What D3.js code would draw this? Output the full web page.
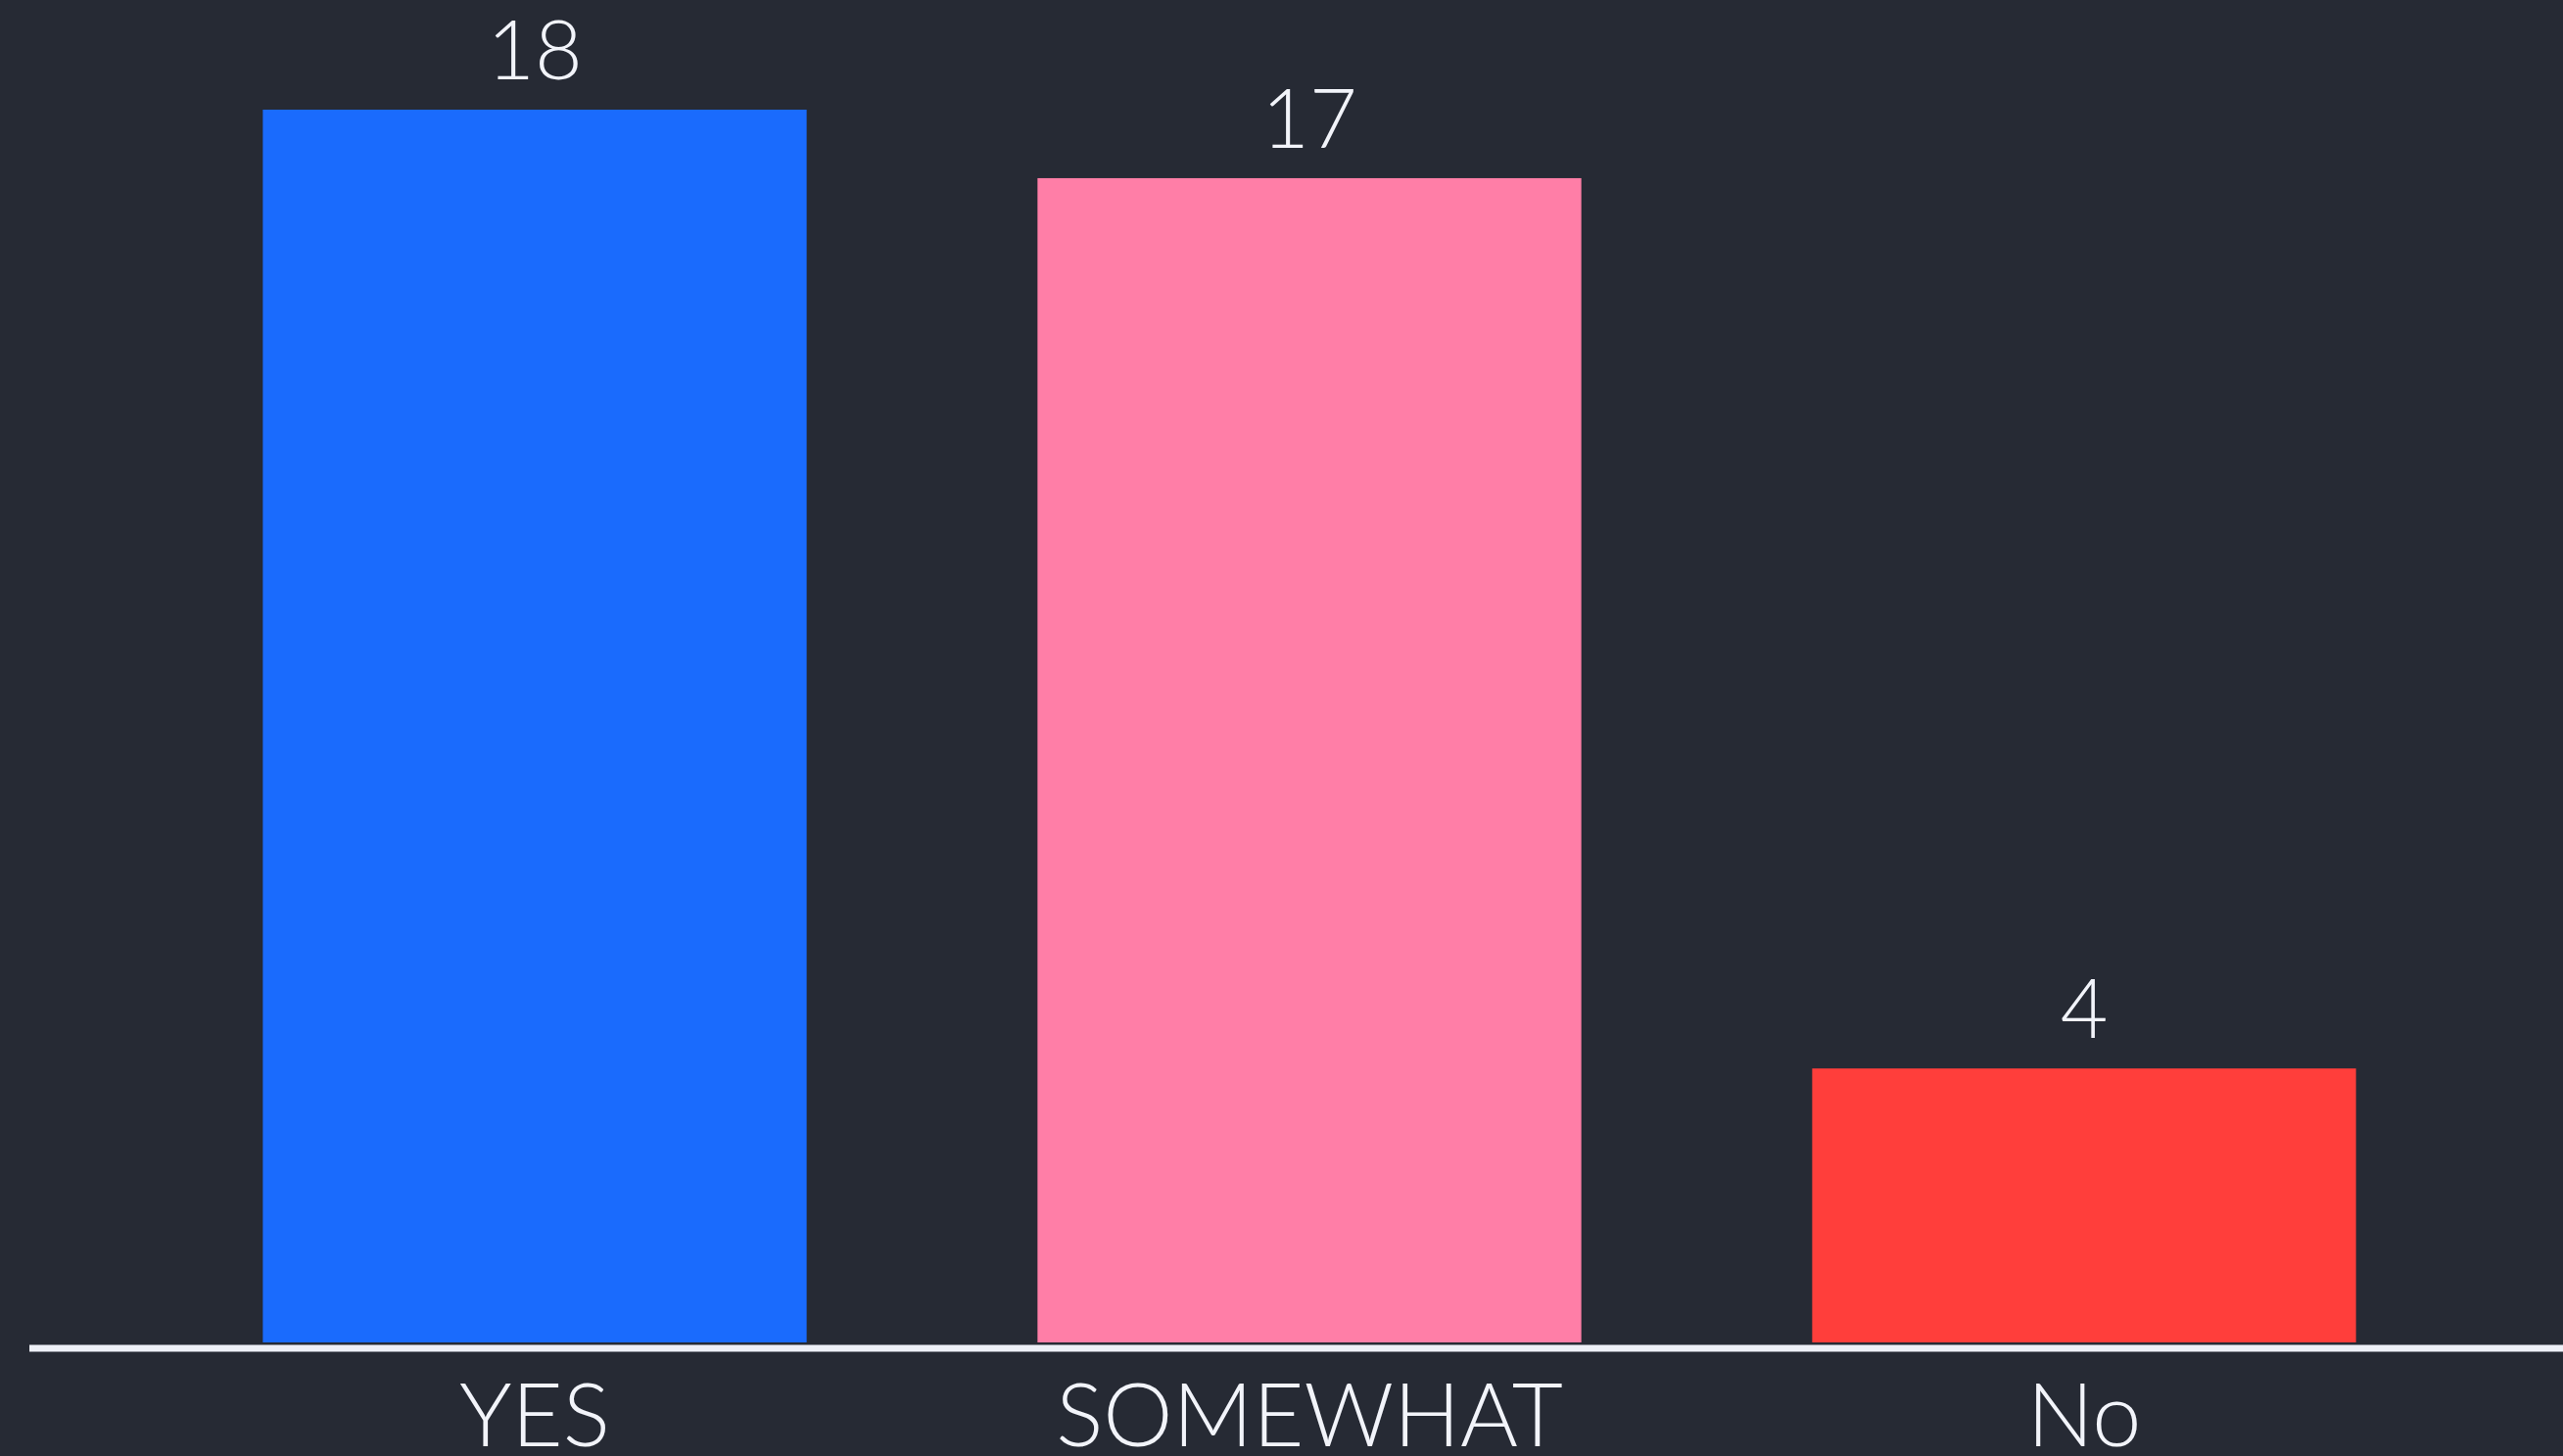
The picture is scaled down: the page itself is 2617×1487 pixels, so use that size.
<!DOCTYPE html>
<html>
<head>
<meta charset="utf-8">
<script src="https://cdn.jsdelivr.net/npm/d3@7"></script>
<style>
  html, body { margin: 0; padding: 0; background: #262a34; overflow: hidden; }
  text { font-family: Lato, "Open Sans", sans-serif; font-weight: 300; fill: #f2f4fa; }
</style>
</head>
<body>
<div id="chart"></div>
<script>
// Data
var categories = ["YES", "SOMEWHAT", "No"];
var counts = [18, 17, 4];
var barColors = ["#1a6bfd", "#ff7ea7", "#ff3e3b"];

var svgWidth = 2617;
var svgHeight = 1487;

var svg = d3.select("#chart").append("svg")
  .attr("width", svgWidth)
  .attr("height", svgHeight);

svg.append("rect")
  .attr("width", svgWidth)
  .attr("height", svgHeight)
  .attr("fill", "#262a34");

// Scales
var xScale = d3.scaleBand()
  .domain(categories)
  .range([150.5, 2523.5])
  .paddingInner(0.298)
  .paddingOuter(0.149);

var yScale = d3.scaleLinear()
  .domain([0, 18])
  .range([1371, 112]);

var data = categories.map(function(c, i) {
  return { cat: c, value: counts[i], color: barColors[i] };
});

// Bars
svg.selectAll(".bar")
  .data(data)
  .enter()
  .append("rect")
  .attr("class", "bar")
  .attr("x", d => xScale(d.cat))
  .attr("y", d => yScale(d.value))
  .attr("width", xScale.bandwidth())
  .attr("height", d => yScale(0) - yScale(d.value))
  .attr("fill", d => d.color);

// Value labels
svg.selectAll(".val")
  .data(data)
  .enter()
  .append("text")
  .attr("class", "val")
  .attr("x", d => xScale(d.cat) + xScale.bandwidth() / 2)
  .attr("y", d => yScale(d.value) - 31)
  .attr("text-anchor", "middle")
  .attr("font-size", "84px")
  .text(d => d.value);

// x axis with baseline
var xAxis = d3.axisBottom(xScale).tickSize(0).tickPadding(0);
var axisG = svg.append("g")
  .attr("transform", "translate(0, 1377)")
  .call(xAxis);

axisG.select(".domain").remove();
axisG.append("line")
  .attr("x1", 30)
  .attr("x2", svgWidth)
  .attr("y1", 0)
  .attr("y2", 0)
  .attr("stroke", "#eef0f7")
  .attr("stroke-width", 7);

axisG.selectAll(".tick text")
  .attr("y", 100)
  .attr("dy", 0)
  .attr("font-size", "90px")
  .style("font-family", "Lato, 'Open Sans', sans-serif")
  .style("font-weight", 300)
  .attr("fill", "#f2f4fa");
</script>
</body>
</html>
